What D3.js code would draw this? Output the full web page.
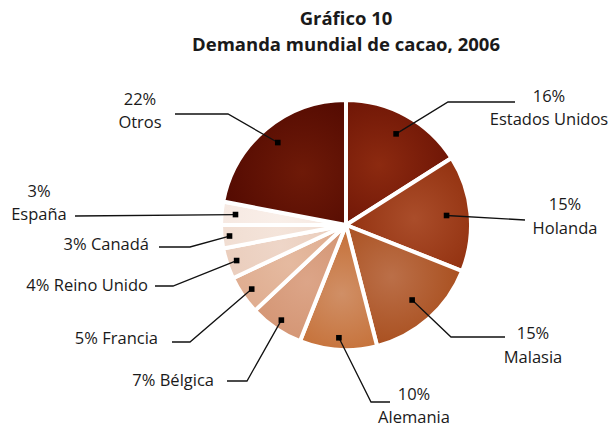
<!DOCTYPE html>
<html>
<head>
<meta charset="utf-8">
<script src="https://cdn.jsdelivr.net/npm/d3@7"></script>
<style>
  body { margin: 0; background: #fff; }
  text { font-family: "Open Sans", sans-serif; fill: #1a1a1a; }
</style>
</head>
<body>
<div id="chart"></div>
<script>
// data
var countries = ["Estados Unidos", "Holanda", "Malasia", "Alemania", "Bélgica", "Francia", "Reino Unido", "Canadá", "España", "Otros"];
var shares = [16, 15, 15, 10, 7, 5, 4, 3, 3, 22];
var lightColors = ["#8c2a10", "#aa4d2a", "#bb6f48", "#d08f66", "#dca588", "#e5baa0", "#eed6c8", "#f4e4da", "#f9efe9", "#6e1a08"];
var darkColors = ["#640e02", "#892605", "#a2430f", "#c0601f", "#cf8c68", "#dba384", "#e8c7b4", "#eed8cb", "#f4e4dc", "#4e0700"];

var width = 611, height = 427;
var cx = 346, cy = 225, radius = 125;

// label layout: dot radius, leader points, text lines
var labels = [
  { dotR: 104, pts: [[448, 102], [515, 102]], lines: [["16%", 549, 102, "middle"], ["Estados Unidos", 549, 125, "middle"]] },
  { dotR: 101, pts: [[525, 220]], lines: [["15%", 565, 210, "middle"], ["Holanda", 565, 234, "middle"]] },
  { dotR: 100, pts: [[451, 337], [505, 337]], lines: [["15%", 533, 339, "middle"], ["Malasia", 533, 363, "middle"]] },
  { dotR: 113, pts: [[371, 402], [390, 402]], lines: [["10%", 414, 400, "middle"], ["Alemania", 414, 423, "middle"]] },
  { dotR: 115, pts: [[247, 381], [227, 381]], lines: [["7% Bélgica", 214, 386, "end"]] },
  { dotR: 114, pts: [[190, 342], [172, 342]], lines: [["5% Francia", 158, 344, "end"]] },
  { dotR: 115, pts: [[173, 286], [155, 286]], lines: [["4% Reino Unido", 148, 291, "end"]] },
  { dotR: 117, pts: [[190, 247], [159, 247]], lines: [["3% Canadá", 149, 250, "end"]] },
  { dotR: 111, pts: [[75, 216]], lines: [["3%", 39, 197, "middle"], ["España", 39, 220, "middle"]] },
  { dotR: 107, pts: [[228, 114], [175, 114]], lines: [["22%", 140, 105, "middle"], ["Otros", 140, 128, "middle"]] }
];

var svg = d3.select("#chart")
  .append("svg")
  .attr("width", width)
  .attr("height", height);

// title
svg.append("text")
  .attr("x", 346).attr("y", 25)
  .attr("text-anchor", "middle")
  .style("font-size", "18.5px").style("font-weight", "bold")
  .text("Gráfico 10");
svg.append("text")
  .attr("x", 346).attr("y", 51)
  .attr("text-anchor", "middle")
  .style("font-size", "18.5px").style("font-weight", "bold")
  .text("Demanda mundial de cacao, 2006");

var pie = d3.pie().sort(null).value(function (d) { return d; });
var data_ready = pie(shares);

var arcGenerator = d3.arc().innerRadius(0).outerRadius(radius);
var glowArc = d3.arc().innerRadius(radius * 0.55).outerRadius(radius * 0.55);

var g = svg.append("g").attr("transform", "translate(" + cx + "," + cy + ")");

var defs = svg.append("defs");
data_ready.forEach(function (d, i) {
  var c = glowArc.centroid(d);
  var grad = defs.append("radialGradient")
    .attr("id", "grad" + i)
    .attr("gradientUnits", "userSpaceOnUse")
    .attr("cx", c[0]).attr("cy", c[1])
    .attr("fx", c[0]).attr("fy", c[1])
    .attr("r", radius * 0.8);
  grad.append("stop").attr("offset", "0%").attr("stop-color", lightColors[i]);
  grad.append("stop").attr("offset", "100%").attr("stop-color", darkColors[i]);
});

g.selectAll("path.slice")
  .data(data_ready)
  .enter()
  .append("path")
  .attr("class", "slice")
  .attr("d", arcGenerator)
  .attr("fill", function (d, i) { return "url(#grad" + i + ")"; })
  .attr("stroke", "#fff")
  .attr("stroke-width", 4)
  .attr("stroke-linejoin", "miter");

// leader lines and dots
data_ready.forEach(function (d, i) {
  var lab = labels[i];
  var a = (d.startAngle + d.endAngle) / 2;
  var dx = cx + Math.sin(a) * lab.dotR;
  var dy = cy - Math.cos(a) * lab.dotR;
  var pts = [[dx, dy]].concat(lab.pts);
  svg.append("path")
    .attr("d", d3.line()(pts))
    .attr("fill", "none")
    .attr("stroke", "#111")
    .attr("stroke-width", 1.3);
  svg.append("rect")
    .attr("x", dx - 2.8).attr("y", dy - 2.8)
    .attr("width", 5.6).attr("height", 5.6)
    .attr("fill", "#000");
  lab.lines.forEach(function (l) {
    svg.append("text")
      .attr("x", l[1]).attr("y", l[2])
      .attr("text-anchor", l[3])
      .style("font-size", "16.5px")
      .text(l[0]);
  });
});
</script>
</body>
</html>
